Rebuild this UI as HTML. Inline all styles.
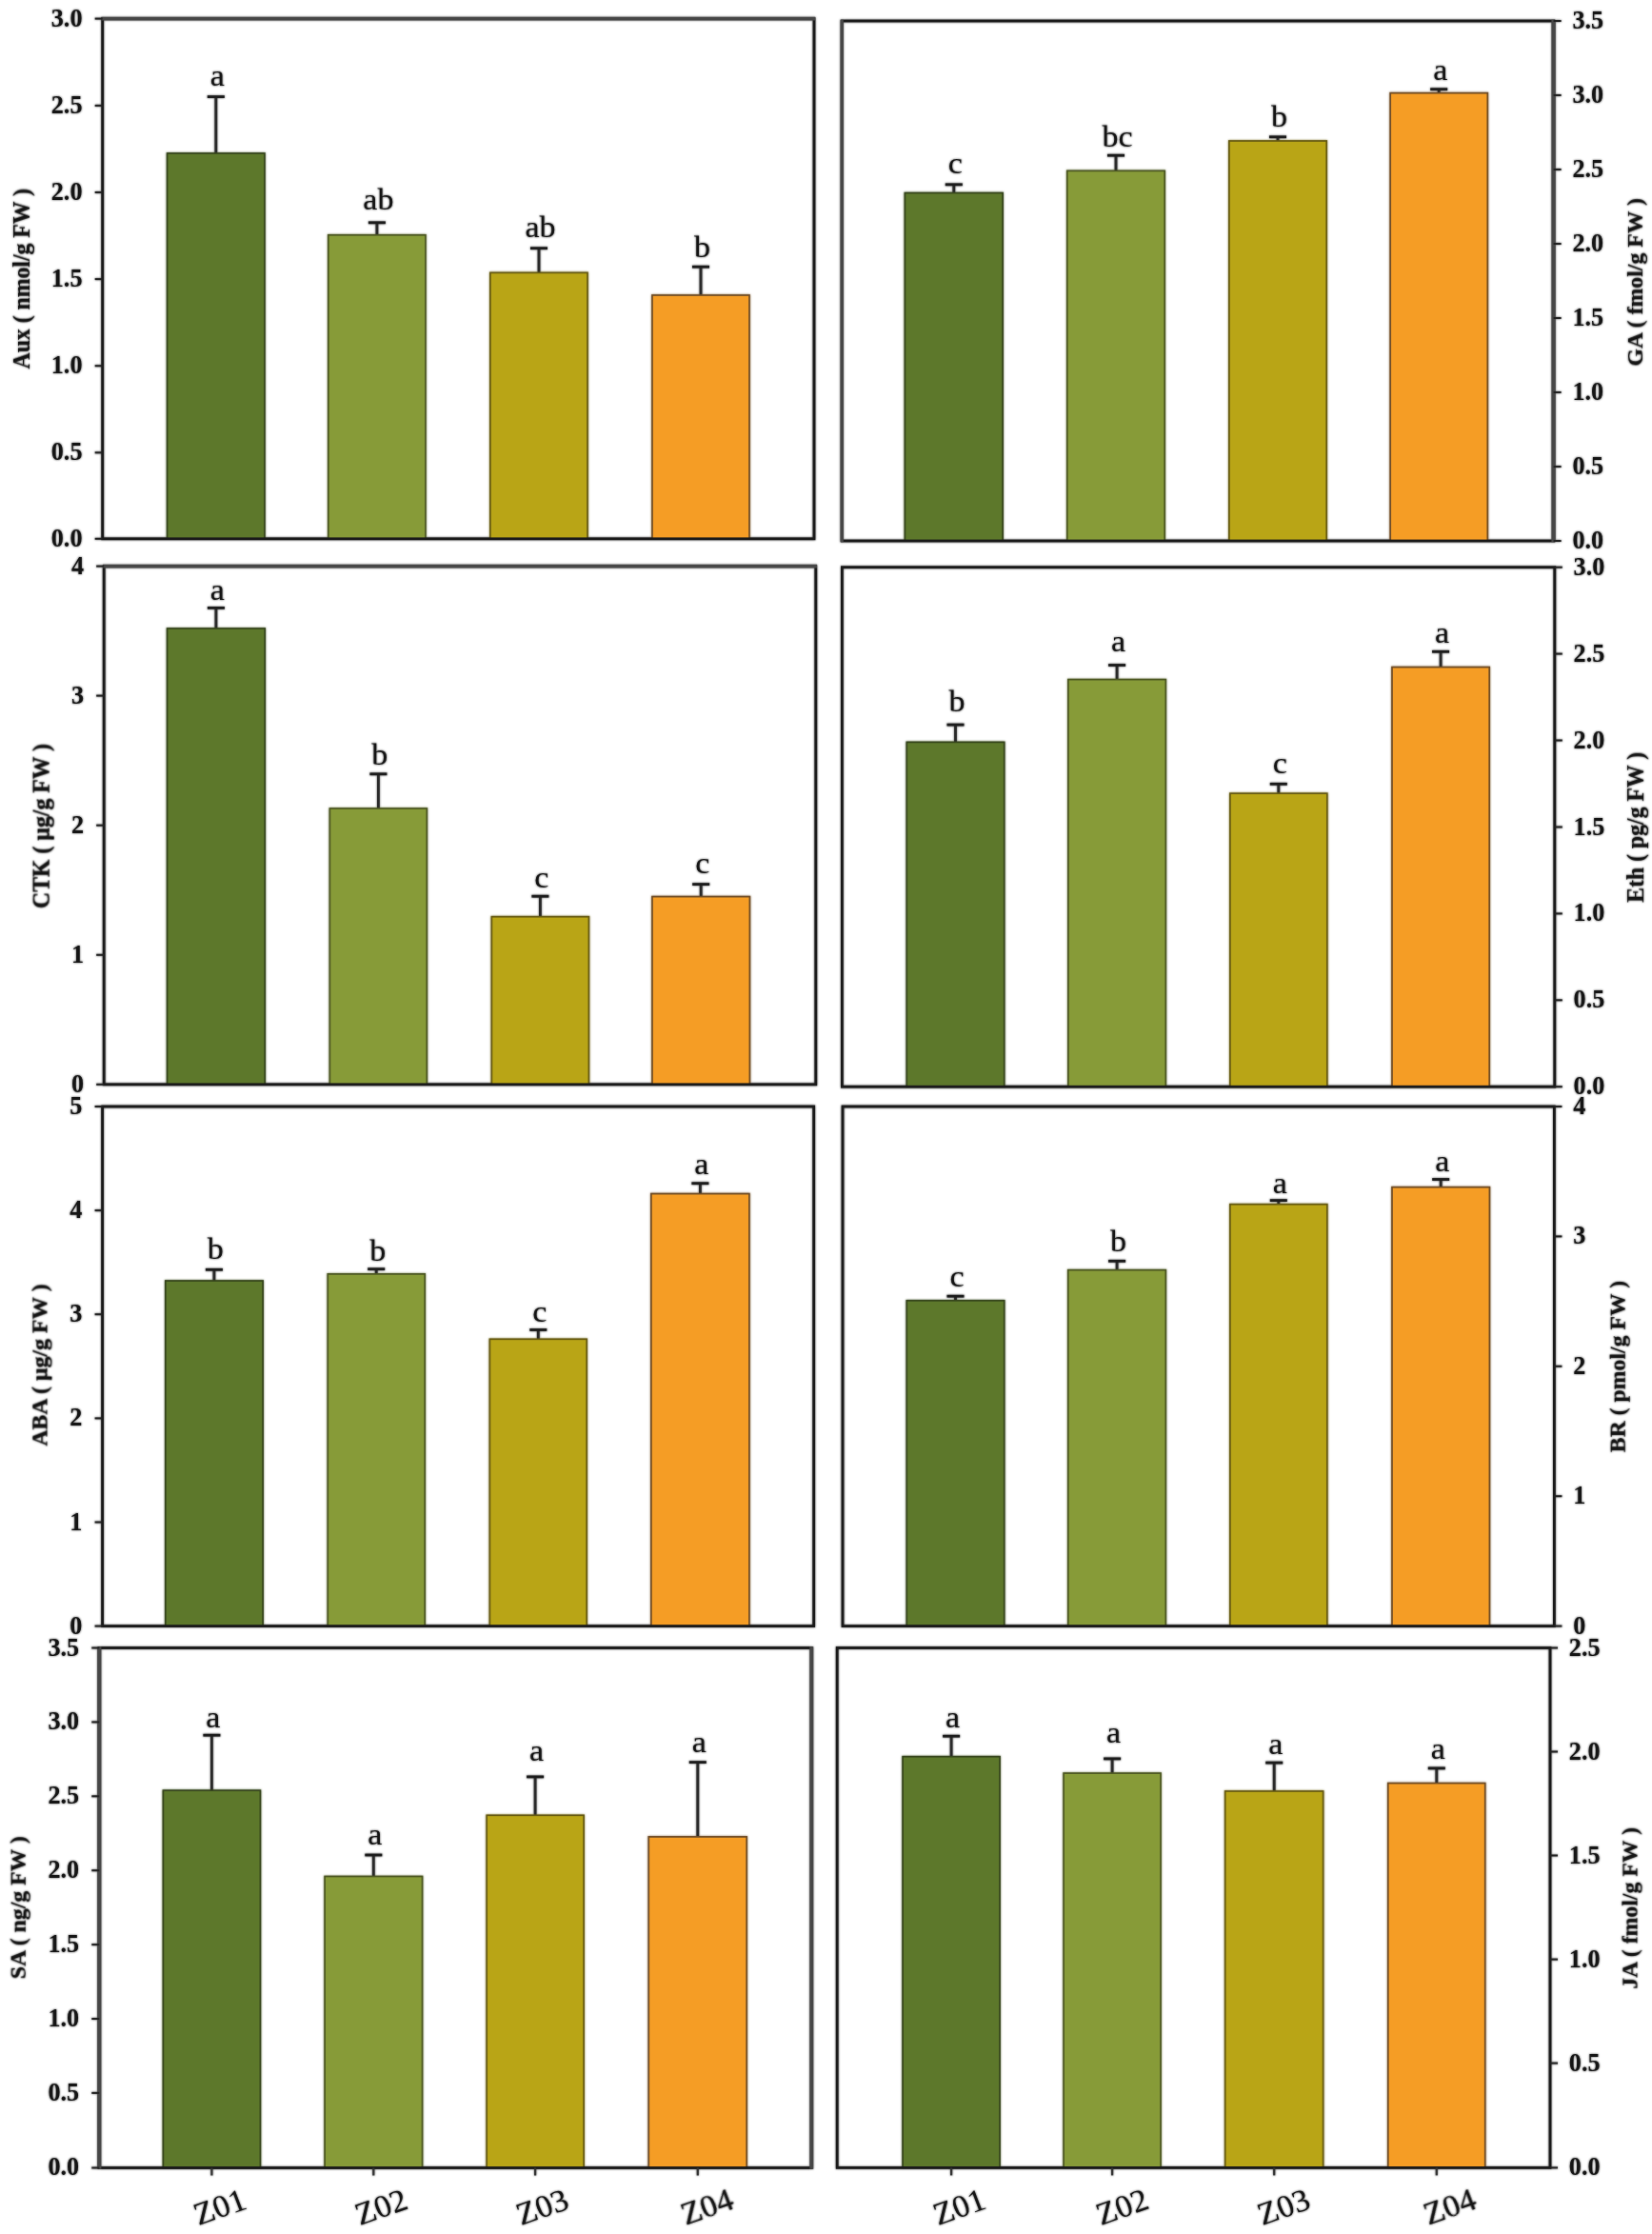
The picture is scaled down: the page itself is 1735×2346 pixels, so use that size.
<!DOCTYPE html>
<html><head><meta charset="utf-8"><title>Hormone contents</title>
<style>html,body{margin:0;padding:0;background:#fff}svg{display:block}text{font-family:"Liberation Serif",serif;fill:#151515}.t{font-weight:bold;font-size:27.0px}.l{font-size:32.5px;text-anchor:middle}.y{font-weight:bold;font-size:23.75px;text-anchor:middle}.x{font-size:33px;text-anchor:middle}</style></head><body>
<svg width="1735" height="2346" viewBox="0 0 1735 2346">
<defs><filter id="soft" x="0" y="0" width="1735" height="2346" filterUnits="userSpaceOnUse"><feGaussianBlur stdDeviation="0.9"/></filter></defs>
<rect width="1735" height="2346" fill="#fff"/>
<use href="#c" filter="url(#soft)" opacity="0.8"/>
<g id="c">
<g>
<line x1="226.8" y1="161.6" x2="226.8" y2="101.6" stroke="#2a2a2a" stroke-width="2.8"/>
<line x1="217.8" y1="101.6" x2="235.8" y2="101.6" stroke="#1c1c1c" stroke-width="2.8"/>
<rect x="175.6" y="161.0" width="102.3" height="404.8" fill="#5d782b" stroke="#36451c" stroke-width="1.7"/>
<text class="l" transform="translate(228.2,89.7) scale(1.05,1)">a</text>
<line x1="395.9" y1="247.4" x2="395.9" y2="233.8" stroke="#2a2a2a" stroke-width="2.8"/>
<line x1="386.9" y1="233.8" x2="404.9" y2="233.8" stroke="#1c1c1c" stroke-width="2.8"/>
<rect x="344.8" y="246.8" width="102.1" height="319.0" fill="#879b38" stroke="#4c5722" stroke-width="1.7"/>
<text class="l" transform="translate(397.4,220.4) scale(1.05,1)">ab</text>
<line x1="566.0" y1="287.0" x2="566.0" y2="260.7" stroke="#2a2a2a" stroke-width="2.8"/>
<line x1="557.0" y1="260.7" x2="575.0" y2="260.7" stroke="#1c1c1c" stroke-width="2.8"/>
<rect x="514.9" y="286.4" width="102.1" height="279.4" fill="#b9a516" stroke="#665a12" stroke-width="1.7"/>
<text class="l" transform="translate(567.5,249.0) scale(1.05,1)">ab</text>
<line x1="736.0" y1="310.6" x2="736.0" y2="280.2" stroke="#2a2a2a" stroke-width="2.8"/>
<line x1="727.0" y1="280.2" x2="745.0" y2="280.2" stroke="#1c1c1c" stroke-width="2.8"/>
<rect x="685.0" y="310.0" width="102.0" height="255.8" fill="#f59d25" stroke="#6e4c26" stroke-width="1.7"/>
<text class="l" transform="translate(737.5,270.0) scale(1.05,1)">b</text>
<rect x="107.7" y="19.6" width="747.3" height="546.2" fill="none" stroke="#1a1a1a" stroke-width="2.8"/>
<line x1="106.5" y1="19.6" x2="856.2" y2="19.6" stroke="#474747" stroke-width="3.6"/>
<line x1="99.7" y1="19.6" x2="107.7" y2="19.6" stroke="#222" stroke-width="2"/>
<text class="t" text-anchor="end" transform="translate(86.5,27.8) scale(0.97,1)">3.0</text>
<line x1="99.7" y1="110.9" x2="107.7" y2="110.9" stroke="#222" stroke-width="2"/>
<text class="t" text-anchor="end" transform="translate(86.5,118.9) scale(0.97,1)">2.5</text>
<line x1="99.7" y1="202.0" x2="107.7" y2="202.0" stroke="#222" stroke-width="2"/>
<text class="t" text-anchor="end" transform="translate(86.5,210.0) scale(0.97,1)">2.0</text>
<line x1="99.7" y1="293.1" x2="107.7" y2="293.1" stroke="#222" stroke-width="2"/>
<text class="t" text-anchor="end" transform="translate(86.5,301.1) scale(0.97,1)">1.5</text>
<line x1="99.7" y1="384.2" x2="107.7" y2="384.2" stroke="#222" stroke-width="2"/>
<text class="t" text-anchor="end" transform="translate(86.5,392.2) scale(0.97,1)">1.0</text>
<line x1="99.7" y1="475.3" x2="107.7" y2="475.3" stroke="#222" stroke-width="2"/>
<text class="t" text-anchor="end" transform="translate(86.5,483.3) scale(0.97,1)">0.5</text>
<line x1="99.7" y1="565.8" x2="107.7" y2="565.8" stroke="#222" stroke-width="2"/>
<text class="t" text-anchor="end" transform="translate(86.5,574.4) scale(0.97,1)">0.0</text>
<text class="y" transform="translate(31.2,292.7) rotate(-90) scale(1,1.1)">Aux ( nmol/g FW )</text>
</g>
<g>
<line x1="1001.8" y1="203.2" x2="1001.8" y2="193.8" stroke="#2a2a2a" stroke-width="2.8"/>
<line x1="992.8" y1="193.8" x2="1010.8" y2="193.8" stroke="#1c1c1c" stroke-width="2.8"/>
<rect x="950.4" y="202.6" width="102.7" height="365.4" fill="#5d782b" stroke="#36451c" stroke-width="1.7"/>
<text class="l" transform="translate(1003.2,182.1) scale(1.05,1)">c</text>
<line x1="1172.0" y1="180.0" x2="1172.0" y2="163.2" stroke="#2a2a2a" stroke-width="2.8"/>
<line x1="1163.0" y1="163.2" x2="1181.0" y2="163.2" stroke="#1c1c1c" stroke-width="2.8"/>
<rect x="1120.8" y="179.4" width="102.4" height="388.6" fill="#879b38" stroke="#4c5722" stroke-width="1.7"/>
<text class="l" transform="translate(1173.5,154.2) scale(1.05,1)">bc</text>
<line x1="1342.0" y1="148.6" x2="1342.0" y2="143.8" stroke="#2a2a2a" stroke-width="2.8"/>
<line x1="1333.0" y1="143.8" x2="1351.0" y2="143.8" stroke="#1c1c1c" stroke-width="2.8"/>
<rect x="1290.9" y="148.0" width="102.3" height="420.0" fill="#b9a516" stroke="#665a12" stroke-width="1.7"/>
<text class="l" transform="translate(1343.5,133.0) scale(1.05,1)">b</text>
<line x1="1511.2" y1="98.3" x2="1511.2" y2="93.7" stroke="#2a2a2a" stroke-width="2.8"/>
<line x1="1502.2" y1="93.7" x2="1520.2" y2="93.7" stroke="#1c1c1c" stroke-width="2.8"/>
<rect x="1460.2" y="97.7" width="102.1" height="470.3" fill="#f59d25" stroke="#6e4c26" stroke-width="1.7"/>
<text class="l" transform="translate(1512.8,83.6) scale(1.05,1)">a</text>
<rect x="884.2" y="22.0" width="747.4" height="546.0" fill="none" stroke="#1a1a1a" stroke-width="2.8"/>
<line x1="1631.6" y1="20.8" x2="1631.6" y2="569.2" stroke="#474747" stroke-width="4.4"/>
<line x1="884.2" y1="20.8" x2="884.2" y2="569.2" stroke="#474747" stroke-width="3.2"/>
<line x1="1631.6" y1="22.0" x2="1639.6" y2="22.0" stroke="#222" stroke-width="2"/>
<text class="t" transform="translate(1651.4,30.0) scale(0.97,1)">3.5</text>
<line x1="1631.6" y1="100.0" x2="1639.6" y2="100.0" stroke="#222" stroke-width="2"/>
<text class="t" transform="translate(1651.4,108.0) scale(0.97,1)">3.0</text>
<line x1="1631.6" y1="178.0" x2="1639.6" y2="178.0" stroke="#222" stroke-width="2"/>
<text class="t" transform="translate(1651.4,186.0) scale(0.97,1)">2.5</text>
<line x1="1631.6" y1="256.0" x2="1639.6" y2="256.0" stroke="#222" stroke-width="2"/>
<text class="t" transform="translate(1651.4,264.0) scale(0.97,1)">2.0</text>
<line x1="1631.6" y1="334.0" x2="1639.6" y2="334.0" stroke="#222" stroke-width="2"/>
<text class="t" transform="translate(1651.4,342.0) scale(0.97,1)">1.5</text>
<line x1="1631.6" y1="412.0" x2="1639.6" y2="412.0" stroke="#222" stroke-width="2"/>
<text class="t" transform="translate(1651.4,420.0) scale(0.97,1)">1.0</text>
<line x1="1631.6" y1="490.0" x2="1639.6" y2="490.0" stroke="#222" stroke-width="2"/>
<text class="t" transform="translate(1651.4,498.0) scale(0.97,1)">0.5</text>
<line x1="1631.6" y1="568.0" x2="1639.6" y2="568.0" stroke="#222" stroke-width="2"/>
<text class="t" transform="translate(1651.4,576.0) scale(0.97,1)">0.0</text>
<text class="y" transform="translate(1724.5,296.3) rotate(-90) scale(1,0.98)">GA ( fmol/g FW )</text>
</g>
<g>
<line x1="226.9" y1="660.6" x2="226.9" y2="638.4" stroke="#2a2a2a" stroke-width="2.8"/>
<line x1="217.9" y1="638.4" x2="235.9" y2="638.4" stroke="#1c1c1c" stroke-width="2.8"/>
<rect x="175.6" y="660.0" width="102.6" height="478.8" fill="#5d782b" stroke="#36451c" stroke-width="1.7"/>
<text class="l" transform="translate(228.4,630.0) scale(1.05,1)">a</text>
<line x1="397.4" y1="849.6" x2="397.4" y2="812.8" stroke="#2a2a2a" stroke-width="2.8"/>
<line x1="388.4" y1="812.8" x2="406.4" y2="812.8" stroke="#1c1c1c" stroke-width="2.8"/>
<rect x="346.4" y="849.0" width="101.9" height="289.8" fill="#879b38" stroke="#4c5722" stroke-width="1.7"/>
<text class="l" transform="translate(398.9,802.6) scale(1.05,1)">b</text>
<line x1="567.4" y1="963.3" x2="567.4" y2="941.2" stroke="#2a2a2a" stroke-width="2.8"/>
<line x1="558.4" y1="941.2" x2="576.4" y2="941.2" stroke="#1c1c1c" stroke-width="2.8"/>
<rect x="516.4" y="962.7" width="102.0" height="176.1" fill="#b9a516" stroke="#665a12" stroke-width="1.7"/>
<text class="l" transform="translate(568.9,931.6) scale(1.05,1)">c</text>
<line x1="736.2" y1="942.2" x2="736.2" y2="928.6" stroke="#2a2a2a" stroke-width="2.8"/>
<line x1="727.2" y1="928.6" x2="745.2" y2="928.6" stroke="#1c1c1c" stroke-width="2.8"/>
<rect x="685.0" y="941.6" width="102.4" height="197.2" fill="#f59d25" stroke="#6e4c26" stroke-width="1.7"/>
<text class="l" transform="translate(737.7,917.4) scale(1.05,1)">c</text>
<rect x="109.2" y="594.6" width="747.6" height="544.2" fill="none" stroke="#1a1a1a" stroke-width="2.8"/>
<line x1="108.0" y1="594.6" x2="858.0" y2="594.6" stroke="#474747" stroke-width="3.8"/>
<line x1="101.2" y1="594.6" x2="109.2" y2="594.6" stroke="#222" stroke-width="2"/>
<text class="t" text-anchor="end" transform="translate(88.0,602.6) scale(0.97,1)">4</text>
<line x1="101.2" y1="730.6" x2="109.2" y2="730.6" stroke="#222" stroke-width="2"/>
<text class="t" text-anchor="end" transform="translate(88.0,738.6) scale(0.97,1)">3</text>
<line x1="101.2" y1="866.7" x2="109.2" y2="866.7" stroke="#222" stroke-width="2"/>
<text class="t" text-anchor="end" transform="translate(88.0,874.7) scale(0.97,1)">2</text>
<line x1="101.2" y1="1002.8" x2="109.2" y2="1002.8" stroke="#222" stroke-width="2"/>
<text class="t" text-anchor="end" transform="translate(88.0,1010.8) scale(0.97,1)">1</text>
<line x1="101.2" y1="1138.8" x2="109.2" y2="1138.8" stroke="#222" stroke-width="2"/>
<text class="t" text-anchor="end" transform="translate(88.0,1146.8) scale(0.97,1)">0</text>
<text class="y" transform="translate(51.4,867.5) rotate(-90) scale(1,1.08)">CTK ( µg/g FW )</text>
</g>
<g>
<line x1="1003.5" y1="780.0" x2="1003.5" y2="761.1" stroke="#2a2a2a" stroke-width="2.8"/>
<line x1="994.5" y1="761.1" x2="1012.5" y2="761.1" stroke="#1c1c1c" stroke-width="2.8"/>
<rect x="952.3" y="779.4" width="102.4" height="361.8" fill="#5d782b" stroke="#36451c" stroke-width="1.7"/>
<text class="l" transform="translate(1005.0,747.4) scale(1.05,1)">b</text>
<line x1="1173.1" y1="714.2" x2="1173.1" y2="698.5" stroke="#2a2a2a" stroke-width="2.8"/>
<line x1="1164.1" y1="698.5" x2="1182.1" y2="698.5" stroke="#1c1c1c" stroke-width="2.8"/>
<rect x="1121.9" y="713.6" width="102.4" height="427.6" fill="#879b38" stroke="#4c5722" stroke-width="1.7"/>
<text class="l" transform="translate(1174.6,684.1) scale(1.05,1)">a</text>
<line x1="1342.8" y1="833.8" x2="1342.8" y2="823.3" stroke="#2a2a2a" stroke-width="2.8"/>
<line x1="1333.8" y1="823.3" x2="1351.8" y2="823.3" stroke="#1c1c1c" stroke-width="2.8"/>
<rect x="1291.9" y="833.2" width="101.9" height="308.0" fill="#b9a516" stroke="#665a12" stroke-width="1.7"/>
<text class="l" transform="translate(1344.3,812.1) scale(1.05,1)">c</text>
<line x1="1513.1" y1="701.2" x2="1513.1" y2="684.3" stroke="#2a2a2a" stroke-width="2.8"/>
<line x1="1504.1" y1="684.3" x2="1522.1" y2="684.3" stroke="#1c1c1c" stroke-width="2.8"/>
<rect x="1462.0" y="700.6" width="102.2" height="440.6" fill="#f59d25" stroke="#6e4c26" stroke-width="1.7"/>
<text class="l" transform="translate(1514.6,675.2) scale(1.05,1)">a</text>
<rect x="884.4" y="595.7" width="748.4" height="545.5" fill="none" stroke="#1a1a1a" stroke-width="2.8"/>
<line x1="1632.8" y1="595.7" x2="1640.8" y2="595.7" stroke="#222" stroke-width="2"/>
<text class="t" transform="translate(1652.6,603.7) scale(0.97,1)">3.0</text>
<line x1="1632.8" y1="686.6" x2="1640.8" y2="686.6" stroke="#222" stroke-width="2"/>
<text class="t" transform="translate(1652.6,694.6) scale(0.97,1)">2.5</text>
<line x1="1632.8" y1="777.5" x2="1640.8" y2="777.5" stroke="#222" stroke-width="2"/>
<text class="t" transform="translate(1652.6,785.5) scale(0.97,1)">2.0</text>
<line x1="1632.8" y1="868.5" x2="1640.8" y2="868.5" stroke="#222" stroke-width="2"/>
<text class="t" transform="translate(1652.6,876.5) scale(0.97,1)">1.5</text>
<line x1="1632.8" y1="959.4" x2="1640.8" y2="959.4" stroke="#222" stroke-width="2"/>
<text class="t" transform="translate(1652.6,967.4) scale(0.97,1)">1.0</text>
<line x1="1632.8" y1="1050.3" x2="1640.8" y2="1050.3" stroke="#222" stroke-width="2"/>
<text class="t" transform="translate(1652.6,1058.3) scale(0.97,1)">0.5</text>
<line x1="1632.8" y1="1141.2" x2="1640.8" y2="1141.2" stroke="#222" stroke-width="2"/>
<text class="t" transform="translate(1652.6,1149.2) scale(0.97,1)">0.0</text>
<text class="y" transform="translate(1726.4,868.8) rotate(-90) scale(1,1.06)">Eth ( pg/g FW )</text>
</g>
<g>
<line x1="224.9" y1="1345.6" x2="224.9" y2="1333.3" stroke="#2a2a2a" stroke-width="2.8"/>
<line x1="215.9" y1="1333.3" x2="233.9" y2="1333.3" stroke="#1c1c1c" stroke-width="2.8"/>
<rect x="173.8" y="1345.0" width="102.3" height="362.6" fill="#5d782b" stroke="#36451c" stroke-width="1.7"/>
<text class="l" transform="translate(226.4,1322.1) scale(1.05,1)">b</text>
<line x1="395.2" y1="1338.5" x2="395.2" y2="1332.7" stroke="#2a2a2a" stroke-width="2.8"/>
<line x1="386.2" y1="1332.7" x2="404.2" y2="1332.7" stroke="#1c1c1c" stroke-width="2.8"/>
<rect x="344.3" y="1337.9" width="101.9" height="369.7" fill="#879b38" stroke="#4c5722" stroke-width="1.7"/>
<text class="l" transform="translate(396.8,1323.7) scale(1.05,1)">b</text>
<line x1="565.3" y1="1406.9" x2="565.3" y2="1396.5" stroke="#2a2a2a" stroke-width="2.8"/>
<line x1="556.3" y1="1396.5" x2="574.3" y2="1396.5" stroke="#1c1c1c" stroke-width="2.8"/>
<rect x="514.4" y="1406.3" width="101.8" height="301.3" fill="#b9a516" stroke="#665a12" stroke-width="1.7"/>
<text class="l" transform="translate(566.8,1387.9) scale(1.05,1)">c</text>
<line x1="735.4" y1="1254.2" x2="735.4" y2="1242.7" stroke="#2a2a2a" stroke-width="2.8"/>
<line x1="726.4" y1="1242.7" x2="744.4" y2="1242.7" stroke="#1c1c1c" stroke-width="2.8"/>
<rect x="683.9" y="1253.6" width="103.0" height="454.0" fill="#f59d25" stroke="#6e4c26" stroke-width="1.7"/>
<text class="l" transform="translate(736.9,1232.6) scale(1.05,1)">a</text>
<rect x="107.6" y="1162.0" width="747.1" height="545.6" fill="none" stroke="#1a1a1a" stroke-width="2.8"/>
<line x1="99.6" y1="1162.0" x2="107.6" y2="1162.0" stroke="#222" stroke-width="2"/>
<text class="t" text-anchor="end" transform="translate(86.4,1170.0) scale(0.97,1)">5</text>
<line x1="99.6" y1="1271.1" x2="107.6" y2="1271.1" stroke="#222" stroke-width="2"/>
<text class="t" text-anchor="end" transform="translate(86.4,1279.1) scale(0.97,1)">4</text>
<line x1="99.6" y1="1380.2" x2="107.6" y2="1380.2" stroke="#222" stroke-width="2"/>
<text class="t" text-anchor="end" transform="translate(86.4,1388.2) scale(0.97,1)">3</text>
<line x1="99.6" y1="1489.4" x2="107.6" y2="1489.4" stroke="#222" stroke-width="2"/>
<text class="t" text-anchor="end" transform="translate(86.4,1497.4) scale(0.97,1)">2</text>
<line x1="99.6" y1="1598.5" x2="107.6" y2="1598.5" stroke="#222" stroke-width="2"/>
<text class="t" text-anchor="end" transform="translate(86.4,1606.5) scale(0.97,1)">1</text>
<line x1="99.6" y1="1707.6" x2="107.6" y2="1707.6" stroke="#222" stroke-width="2"/>
<text class="t" text-anchor="end" transform="translate(86.4,1715.6) scale(0.97,1)">0</text>
<text class="y" transform="translate(49.0,1433.6) rotate(-90) scale(1,0.98)">ABA ( µg/g FW )</text>
</g>
<g>
<line x1="1003.5" y1="1366.4" x2="1003.5" y2="1361.2" stroke="#2a2a2a" stroke-width="2.8"/>
<line x1="994.5" y1="1361.2" x2="1012.5" y2="1361.2" stroke="#1c1c1c" stroke-width="2.8"/>
<rect x="952.3" y="1365.8" width="102.4" height="341.8" fill="#5d782b" stroke="#36451c" stroke-width="1.7"/>
<text class="l" transform="translate(1005.0,1351.0) scale(1.05,1)">c</text>
<line x1="1173.1" y1="1334.3" x2="1173.1" y2="1324.3" stroke="#2a2a2a" stroke-width="2.8"/>
<line x1="1164.1" y1="1324.3" x2="1182.1" y2="1324.3" stroke="#1c1c1c" stroke-width="2.8"/>
<rect x="1121.8" y="1333.7" width="102.5" height="373.9" fill="#879b38" stroke="#4c5722" stroke-width="1.7"/>
<text class="l" transform="translate(1174.6,1314.2) scale(1.05,1)">b</text>
<line x1="1342.8" y1="1265.3" x2="1342.8" y2="1260.6" stroke="#2a2a2a" stroke-width="2.8"/>
<line x1="1333.8" y1="1260.6" x2="1351.8" y2="1260.6" stroke="#1c1c1c" stroke-width="2.8"/>
<rect x="1291.9" y="1264.7" width="101.9" height="442.9" fill="#b9a516" stroke="#665a12" stroke-width="1.7"/>
<text class="l" transform="translate(1344.3,1252.6) scale(1.05,1)">a</text>
<line x1="1513.2" y1="1247.3" x2="1513.2" y2="1238.5" stroke="#2a2a2a" stroke-width="2.8"/>
<line x1="1504.2" y1="1238.5" x2="1522.2" y2="1238.5" stroke="#1c1c1c" stroke-width="2.8"/>
<rect x="1462.0" y="1246.7" width="102.4" height="460.9" fill="#f59d25" stroke="#6e4c26" stroke-width="1.7"/>
<text class="l" transform="translate(1514.7,1229.9) scale(1.05,1)">a</text>
<rect x="885.0" y="1162.0" width="747.4" height="545.6" fill="none" stroke="#1a1a1a" stroke-width="2.8"/>
<line x1="1632.4" y1="1162.0" x2="1640.4" y2="1162.0" stroke="#222" stroke-width="2"/>
<text class="t" transform="translate(1652.2,1170.0) scale(0.97,1)">4</text>
<line x1="1632.4" y1="1298.4" x2="1640.4" y2="1298.4" stroke="#222" stroke-width="2"/>
<text class="t" transform="translate(1652.2,1306.4) scale(0.97,1)">3</text>
<line x1="1632.4" y1="1434.8" x2="1640.4" y2="1434.8" stroke="#222" stroke-width="2"/>
<text class="t" transform="translate(1652.2,1442.8) scale(0.97,1)">2</text>
<line x1="1632.4" y1="1571.2" x2="1640.4" y2="1571.2" stroke="#222" stroke-width="2"/>
<text class="t" transform="translate(1652.2,1579.2) scale(0.97,1)">1</text>
<line x1="1632.4" y1="1707.6" x2="1640.4" y2="1707.6" stroke="#222" stroke-width="2"/>
<text class="t" transform="translate(1652.2,1715.6) scale(0.97,1)">0</text>
<text class="y" transform="translate(1706.7,1435.1) rotate(-90) scale(1,1.0)">BR ( pmol/g FW )</text>
</g>
<g>
<line x1="222.4" y1="1880.8" x2="222.4" y2="1822.2" stroke="#2a2a2a" stroke-width="2.8"/>
<line x1="213.4" y1="1822.2" x2="231.4" y2="1822.2" stroke="#1c1c1c" stroke-width="2.8"/>
<rect x="171.4" y="1880.2" width="102.0" height="396.3" fill="#5d782b" stroke="#36451c" stroke-width="1.7"/>
<text class="l" transform="translate(223.9,1813.6) scale(1.05,1)">a</text>
<line x1="392.3" y1="1971.1" x2="392.3" y2="1948.0" stroke="#2a2a2a" stroke-width="2.8"/>
<line x1="383.3" y1="1948.0" x2="401.3" y2="1948.0" stroke="#1c1c1c" stroke-width="2.8"/>
<rect x="341.1" y="1970.5" width="102.4" height="306.0" fill="#879b38" stroke="#4c5722" stroke-width="1.7"/>
<text class="l" transform="translate(393.8,1937.4) scale(1.05,1)">a</text>
<line x1="562.1" y1="1906.9" x2="562.1" y2="1865.9" stroke="#2a2a2a" stroke-width="2.8"/>
<line x1="553.1" y1="1865.9" x2="571.1" y2="1865.9" stroke="#1c1c1c" stroke-width="2.8"/>
<rect x="511.2" y="1906.3" width="101.9" height="370.2" fill="#b9a516" stroke="#665a12" stroke-width="1.7"/>
<text class="l" transform="translate(563.6,1849.4) scale(1.05,1)">a</text>
<line x1="732.8" y1="1929.5" x2="732.8" y2="1850.6" stroke="#2a2a2a" stroke-width="2.8"/>
<line x1="723.8" y1="1850.6" x2="741.8" y2="1850.6" stroke="#1c1c1c" stroke-width="2.8"/>
<rect x="681.3" y="1928.9" width="102.9" height="347.6" fill="#f59d25" stroke="#6e4c26" stroke-width="1.7"/>
<text class="l" transform="translate(734.2,1839.9) scale(1.05,1)">a</text>
<rect x="104.3" y="1730.5" width="748.0" height="546.0" fill="none" stroke="#1a1a1a" stroke-width="2.8"/>
<line x1="104.3" y1="1729.3" x2="104.3" y2="2277.7" stroke="#474747" stroke-width="4.2"/>
<line x1="852.3" y1="1729.3" x2="852.3" y2="2277.7" stroke="#474747" stroke-width="4.0"/>
<line x1="96.3" y1="1730.5" x2="104.3" y2="1730.5" stroke="#222" stroke-width="2"/>
<text class="t" text-anchor="end" transform="translate(83.1,1738.5) scale(0.97,1)">3.5</text>
<line x1="96.3" y1="1808.4" x2="104.3" y2="1808.4" stroke="#222" stroke-width="2"/>
<text class="t" text-anchor="end" transform="translate(83.1,1816.4) scale(0.97,1)">3.0</text>
<line x1="96.3" y1="1886.3" x2="104.3" y2="1886.3" stroke="#222" stroke-width="2"/>
<text class="t" text-anchor="end" transform="translate(83.1,1894.3) scale(0.97,1)">2.5</text>
<line x1="96.3" y1="1964.2" x2="104.3" y2="1964.2" stroke="#222" stroke-width="2"/>
<text class="t" text-anchor="end" transform="translate(83.1,1972.2) scale(0.97,1)">2.0</text>
<line x1="96.3" y1="2042.1" x2="104.3" y2="2042.1" stroke="#222" stroke-width="2"/>
<text class="t" text-anchor="end" transform="translate(83.1,2050.1) scale(0.97,1)">1.5</text>
<line x1="96.3" y1="2120.0" x2="104.3" y2="2120.0" stroke="#222" stroke-width="2"/>
<text class="t" text-anchor="end" transform="translate(83.1,2128.0) scale(0.97,1)">1.0</text>
<line x1="96.3" y1="2197.9" x2="104.3" y2="2197.9" stroke="#222" stroke-width="2"/>
<text class="t" text-anchor="end" transform="translate(83.1,2205.9) scale(0.97,1)">0.5</text>
<line x1="96.3" y1="2276.5" x2="104.3" y2="2276.5" stroke="#222" stroke-width="2"/>
<text class="t" text-anchor="end" transform="translate(83.1,2283.8) scale(0.97,1)">0.0</text>
<text class="y" transform="translate(26.7,2003.2) rotate(-90) scale(1,1.0)">SA ( ng/g FW )</text>
<line x1="222.4" y1="2276.5" x2="222.4" y2="2284.5" stroke="#333" stroke-width="2.2"/>
<text class="x" transform="translate(234.7,2327.9) scale(1.05,1) rotate(-20)" >Z01</text>
<line x1="392.3" y1="2276.5" x2="392.3" y2="2284.5" stroke="#333" stroke-width="2.2"/>
<text class="x" transform="translate(404.1,2327.9) scale(1.05,1) rotate(-20)" >Z02</text>
<line x1="562.1" y1="2276.5" x2="562.1" y2="2284.5" stroke="#333" stroke-width="2.2"/>
<text class="x" transform="translate(573.4,2327.9) scale(1.05,1) rotate(-20)" >Z03</text>
<line x1="732.8" y1="2276.5" x2="732.8" y2="2284.5" stroke="#333" stroke-width="2.2"/>
<text class="x" transform="translate(746.5,2327.9) scale(1.05,1) rotate(-20)" >Z04</text>
</g>
<g>
<line x1="999.1" y1="1845.3" x2="999.1" y2="1823.2" stroke="#2a2a2a" stroke-width="2.8"/>
<line x1="990.1" y1="1823.2" x2="1008.1" y2="1823.2" stroke="#1c1c1c" stroke-width="2.8"/>
<rect x="948.1" y="1844.7" width="101.9" height="431.7" fill="#5d782b" stroke="#36451c" stroke-width="1.7"/>
<text class="l" transform="translate(1000.6,1813.6) scale(1.05,1)">a</text>
<line x1="1168.1" y1="1862.7" x2="1168.1" y2="1846.9" stroke="#2a2a2a" stroke-width="2.8"/>
<line x1="1159.1" y1="1846.9" x2="1177.1" y2="1846.9" stroke="#1c1c1c" stroke-width="2.8"/>
<rect x="1117.1" y="1862.1" width="101.9" height="414.3" fill="#879b38" stroke="#4c5722" stroke-width="1.7"/>
<text class="l" transform="translate(1169.6,1829.9) scale(1.05,1)">a</text>
<line x1="1338.2" y1="1881.6" x2="1338.2" y2="1851.1" stroke="#2a2a2a" stroke-width="2.8"/>
<line x1="1329.2" y1="1851.1" x2="1347.2" y2="1851.1" stroke="#1c1c1c" stroke-width="2.8"/>
<rect x="1286.7" y="1881.0" width="102.9" height="395.4" fill="#b9a516" stroke="#665a12" stroke-width="1.7"/>
<text class="l" transform="translate(1339.7,1841.5) scale(1.05,1)">a</text>
<line x1="1508.8" y1="1873.2" x2="1508.8" y2="1856.9" stroke="#2a2a2a" stroke-width="2.8"/>
<line x1="1499.8" y1="1856.9" x2="1517.8" y2="1856.9" stroke="#1c1c1c" stroke-width="2.8"/>
<rect x="1457.8" y="1872.6" width="101.9" height="403.8" fill="#f59d25" stroke="#6e4c26" stroke-width="1.7"/>
<text class="l" transform="translate(1510.2,1846.8) scale(1.05,1)">a</text>
<rect x="879.2" y="1730.5" width="748.8" height="545.9" fill="none" stroke="#1a1a1a" stroke-width="2.8"/>
<line x1="1628.0" y1="1730.5" x2="1636.0" y2="1730.5" stroke="#222" stroke-width="2"/>
<text class="t" transform="translate(1647.8,1738.5) scale(0.97,1)">2.5</text>
<line x1="1628.0" y1="1839.5" x2="1636.0" y2="1839.5" stroke="#222" stroke-width="2"/>
<text class="t" transform="translate(1647.8,1847.5) scale(0.97,1)">2.0</text>
<line x1="1628.0" y1="1948.5" x2="1636.0" y2="1948.5" stroke="#222" stroke-width="2"/>
<text class="t" transform="translate(1647.8,1956.5) scale(0.97,1)">1.5</text>
<line x1="1628.0" y1="2057.6" x2="1636.0" y2="2057.6" stroke="#222" stroke-width="2"/>
<text class="t" transform="translate(1647.8,2065.6) scale(0.97,1)">1.0</text>
<line x1="1628.0" y1="2166.6" x2="1636.0" y2="2166.6" stroke="#222" stroke-width="2"/>
<text class="t" transform="translate(1647.8,2174.6) scale(0.97,1)">0.5</text>
<line x1="1628.0" y1="2276.4" x2="1636.0" y2="2276.4" stroke="#222" stroke-width="2"/>
<text class="t" transform="translate(1647.8,2283.6) scale(0.97,1)">0.0</text>
<text class="y" transform="translate(1719.8,2003.9) rotate(-90) scale(1,0.97)">JA ( fmol/g FW )</text>
<line x1="999.1" y1="2276.4" x2="999.1" y2="2284.4" stroke="#333" stroke-width="2.2"/>
<text class="x" transform="translate(1011.4,2327.8) scale(1.05,1) rotate(-20)" >Z01</text>
<line x1="1168.1" y1="2276.4" x2="1168.1" y2="2284.4" stroke="#333" stroke-width="2.2"/>
<text class="x" transform="translate(1182.4,2327.8) scale(1.05,1) rotate(-20)" >Z02</text>
<line x1="1338.2" y1="2276.4" x2="1338.2" y2="2284.4" stroke="#333" stroke-width="2.2"/>
<text class="x" transform="translate(1352.0,2327.8) scale(1.05,1) rotate(-20)" >Z03</text>
<line x1="1508.8" y1="2276.4" x2="1508.8" y2="2284.4" stroke="#333" stroke-width="2.2"/>
<text class="x" transform="translate(1526.5,2327.8) scale(1.05,1) rotate(-20)" >Z04</text>
</g>
</g>
</svg></body></html>
